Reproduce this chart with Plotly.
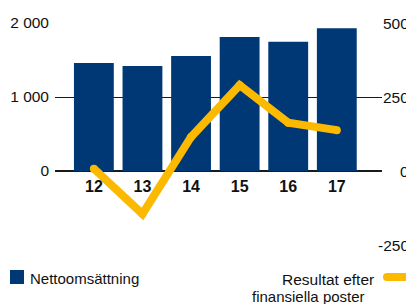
import plotly.graph_objects as go

years = ["12", "13", "14", "15", "16", "17"]
netto = [1460, 1420, 1555, 1810, 1745, 1930]
resultat = [8, -145, 115, 290, 163, 138]

left_ticks = [0, 1000, 2000]
left_text = ["0", "1 000", "2 000"]
right_ticks = [-250, 0, 250, 500]
right_text = ["-250", "0", "250", "500"]

NAVY = "#003876"
YELLOW = "#FBB900"
FONT = "Liberation Sans, Arial, sans-serif"
TXT = "#111111"

# the page body has an 8px margin; size the figure so the page is 414x304
OFF = 8
W, H = 414 - OFF, 304 - OFF
ML, MR, MT, MB = 55 - OFF, 32, 23 - OFF, 59
PW, PH = W - ML - MR, H - MT - MB


def px(x):
    return (x - OFF - ML) / PW


def py(y):
    return (H - MB - (y - OFF)) / PH


fig = go.Figure()
fig.add_trace(go.Bar(x=years, y=netto, marker_color=NAVY, marker_line_width=0,
                     name="Nettoomsättning", yaxis="y"))
fig.add_trace(go.Scatter(x=years, y=resultat, mode="lines+markers",
                         line=dict(color=YELLOW, width=8),
                         marker=dict(color=YELLOW, size=8, line_width=0),
                         name="Resultat efter finansiella poster", yaxis="y2"))

annotations = []
for v, t in zip(right_ticks, right_text):
    annotations.append(dict(text=t, xref="paper", x=1, xshift=29, xanchor="right",
                            yref="y2", y=v, yanchor="middle", showarrow=False,
                            font=dict(family=FONT, size=15.5, color=TXT)))

annotations += [
    dict(text="Nettoomsättning", xref="paper", yref="paper", x=px(28), y=py(278),
         xanchor="left", yanchor="middle", showarrow=False,
         font=dict(family=FONT, size=15, color=TXT)),
    dict(text="Resultat efter", xref="paper", yref="paper", x=px(376), y=py(279),
         xanchor="right", yanchor="middle", showarrow=False,
         font=dict(family=FONT, size=15.5, color=TXT)),
    dict(text="finansiella poster", xref="paper", yref="paper", x=px(367), y=py(296),
         xanchor="right", yanchor="middle", showarrow=False,
         font=dict(family=FONT, size=15, color=TXT)),
]

shapes = [
    dict(type="rect", xref="paper", yref="paper", x0=px(10), x1=px(24), y0=py(284), y1=py(270),
         fillcolor=NAVY, line_width=0),
    dict(type="line", xref="paper", yref="paper", x0=px(387), x1=px(406), y0=py(277), y1=py(277),
         line=dict(color=YELLOW, width=8)),
]
for cx in (387, 406):
    shapes.append(dict(type="circle", xref="paper", yref="paper", xsizemode="pixel", ysizemode="pixel",
                       xanchor=px(cx), yanchor=py(277), x0=-4, x1=4, y0=-4, y1=4,
                       fillcolor=YELLOW, line_width=0))

fig.update_layout(
    width=W, height=H, autosize=False,
    margin=dict(l=ML, r=MR, t=MT, b=MB, pad=0, autoexpand=False),
    plot_bgcolor="white", paper_bgcolor="white",
    showlegend=False, bargap=0.18,
    font=dict(family=FONT, size=15.5, color=TXT),
    xaxis=dict(type="category", range=[-0.8, 5.93], anchor="free", position=1/3,
               showgrid=False, showline=False, zeroline=False, ticks="",
               ticklabelstandoff=4, automargin=False,
               tickfont=dict(family=FONT, size=16, color=TXT, weight="bold")),
    yaxis=dict(range=[-1000, 2000], tickvals=left_ticks, ticktext=left_text,
               showgrid=False, zeroline=False, showline=False, ticks="",
               ticklabelstandoff=5, automargin=False,
               tickfont=dict(family=FONT, size=15.5, color=TXT)),
    yaxis2=dict(range=[-250, 500], overlaying="y", side="right", tickvals=right_ticks,
                showticklabels=False, showgrid=True, gridcolor="#1a1a1a", gridwidth=1,
                zeroline=True, zerolinecolor="#1a1a1a", zerolinewidth=2,
                showline=False, ticks="", automargin=False),
    annotations=annotations, shapes=shapes,
)

fig.write_html("out.html")
